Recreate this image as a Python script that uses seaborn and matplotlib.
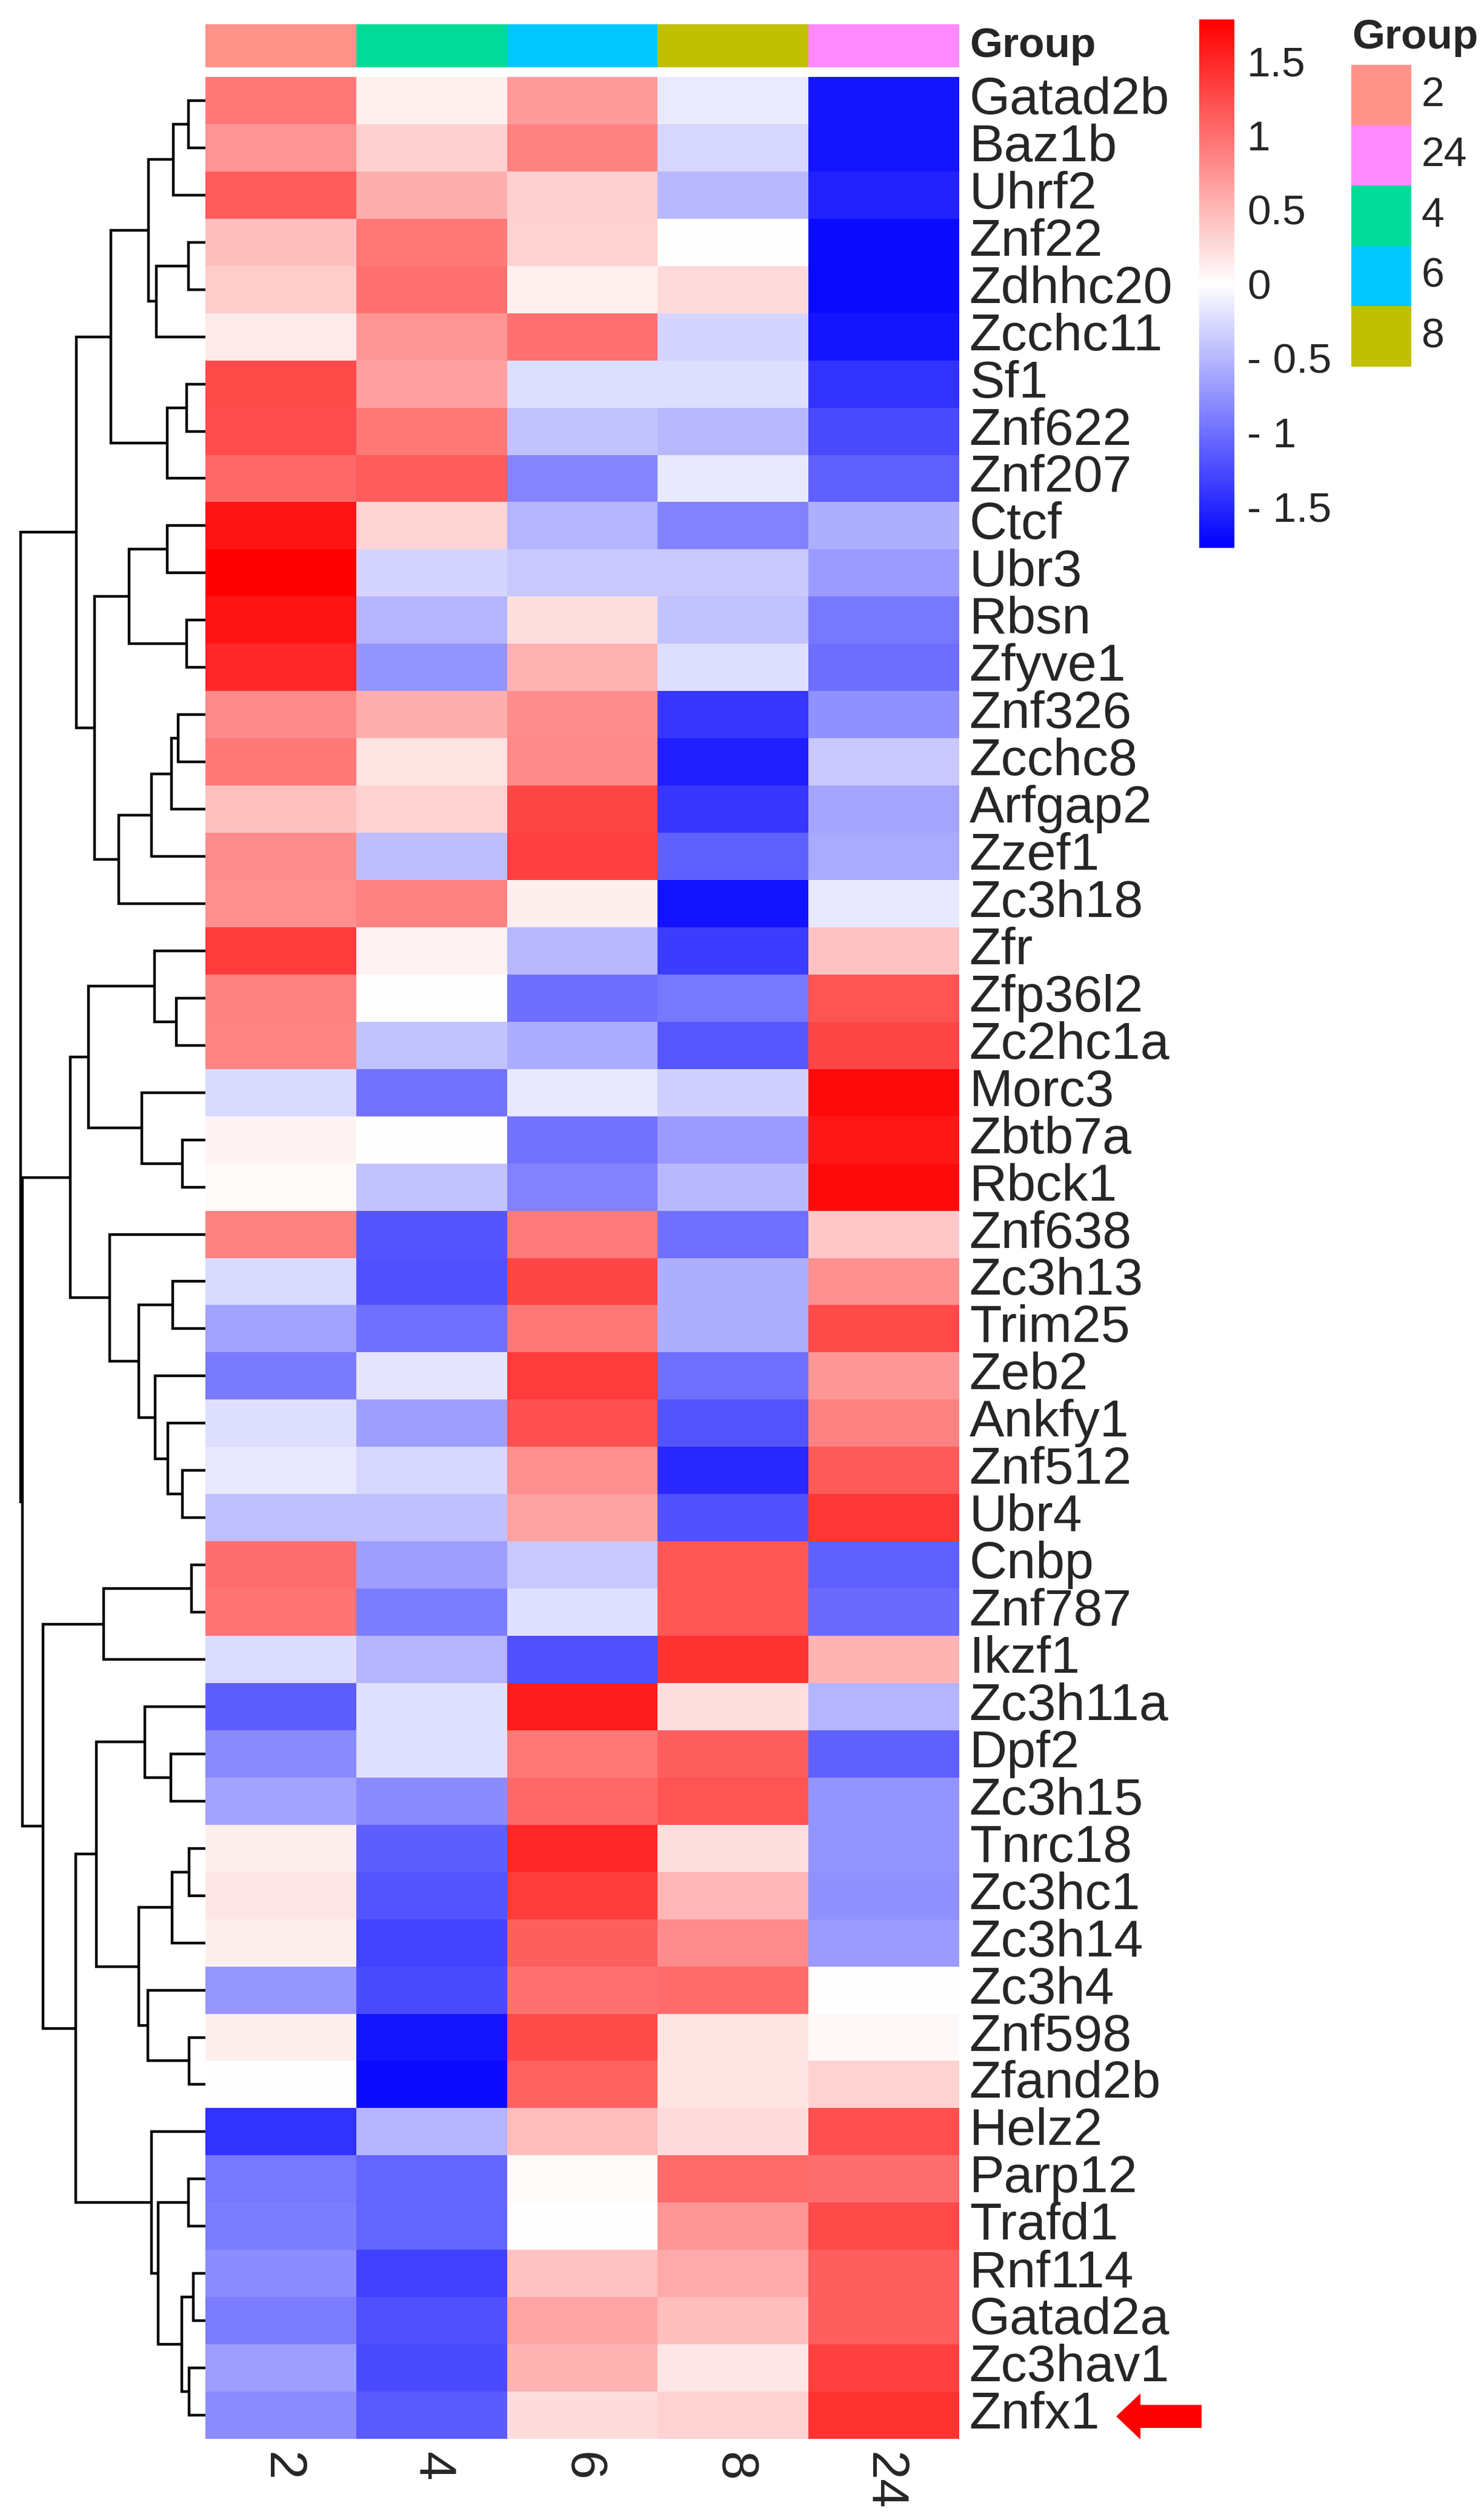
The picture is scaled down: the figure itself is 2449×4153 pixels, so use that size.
import numpy as np
import pandas as pd
import matplotlib
matplotlib.use("Agg")
import matplotlib.pyplot as plt
import seaborn as sns
from matplotlib.colors import LinearSegmentedColormap, ListedColormap
from matplotlib.patches import FancyArrow

# ---------------- data ----------------
genes = ["Gatad2b", "Baz1b", "Uhrf2", "Znf22", "Zdhhc20", "Zcchc11", "Sf1", "Znf622",
         "Znf207", "Ctcf", "Ubr3", "Rbsn", "Zfyve1", "Znf326", "Zcchc8", "Arfgap2",
         "Zzef1", "Zc3h18", "Zfr", "Zfp36l2", "Zc2hc1a", "Morc3", "Zbtb7a", "Rbck1",
         "Znf638", "Zc3h13", "Trim25", "Zeb2", "Ankfy1", "Znf512", "Ubr4", "Cnbp",
         "Znf787", "Ikzf1", "Zc3h11a", "Dpf2", "Zc3h15", "Tnrc18", "Zc3hc1", "Zc3h14",
         "Zc3h4", "Znf598", "Zfand2b", "Helz2", "Parp12", "Trafd1", "Rnf114", "Gatad2a",
         "Zc3hav1", "Znfx1"]

columns = ["2", "4", "6", "8", "24"]

z_2 = [0.94, 0.75, 1.14, 0.45, 0.35, 0.14, 1.26, 1.24, 1.05, 1.63,
       1.78, 1.63, 1.50, 0.82, 0.94, 0.44, 0.80, 0.79, 1.35, 0.87,
       0.86, -0.26, 0.07, 0.03, 0.87, -0.26, -0.65, -0.93, -0.23, -0.16,
       -0.44, 1.01, 0.96, -0.24, -1.12, -0.82, -0.65, 0.12, 0.17, 0.12,
       -0.73, 0.12, 0.00, -1.43, -0.94, -0.91, -0.80, -0.91, -0.68, -0.80]
z_4 = [0.10, 0.33, 0.56, 0.94, 1.00, 0.73, 0.66, 0.94, 1.14, 0.30,
       -0.30, -0.52, -0.75, 0.56, 0.19, 0.31, -0.45, 0.87, 0.09, 0.00,
       -0.42, -0.98, 0.00, -0.42, -1.19, -1.22, -1.00, -0.19, -0.68, -0.28,
       -0.44, -0.68, -0.91, -0.52, -0.21, -0.21, -0.82, -1.12, -1.19, -1.31,
       -1.26, -1.63, -1.70, -0.52, -1.08, -1.08, -1.33, -1.22, -1.26, -1.15]
z_6 = [0.70, 0.87, 0.33, 0.31, 0.10, 1.00, -0.23, -0.42, -0.86, -0.52,
       -0.38, 0.23, 0.54, 0.80, 0.82, 1.29, 1.33, 0.12, -0.49, -1.01,
       -0.58, -0.16, -0.98, -0.87, 0.93, 1.28, 0.94, 1.35, 1.22, 0.79,
       0.65, -0.38, -0.21, -1.21, 1.58, 0.94, 1.05, 1.49, 1.35, 1.12,
       1.00, 1.26, 1.10, 0.47, 0.03, 0.00, 0.42, 0.63, 0.52, 0.24]
z_8 = [-0.14, -0.28, -0.49, 0.00, 0.26, -0.30, -0.23, -0.49, -0.16, -0.87,
       -0.38, -0.42, -0.23, -1.40, -1.57, -1.40, -1.10, -1.65, -1.36, -0.94,
       -1.17, -0.33, -0.70, -0.49, -1.00, -0.56, -0.56, -1.00, -1.19, -1.49,
       -1.22, 1.17, 1.17, 1.42, 0.23, 1.12, 1.19, 0.23, 0.51, 0.80,
       1.03, 0.19, 0.19, 0.24, 1.03, 0.73, 0.59, 0.45, 0.17, 0.31]
z_24 = [-1.64, -1.64, -1.54, -1.71, -1.71, -1.63, -1.43, -1.26, -1.10, -0.56,
        -0.70, -0.94, -1.01, -0.77, -0.38, -0.63, -0.59, -0.16, 0.42, 1.19,
        1.28, 1.70, 1.61, 1.70, 0.38, 0.77, 1.26, 0.73, 0.87, 1.15,
        1.40, -1.10, -1.03, 0.52, -0.52, -1.10, -0.75, -0.75, -0.77, -0.70,
        -0.01, 0.05, 0.31, 1.21, 1.01, 1.26, 1.12, 1.12, 1.33, 1.42]

group_levels = ["2", "24", "4", "6", "8"]
group_colors = ["#FF9289", "#FF89FF", "#00DC98", "#00C8FF", "#C0C000"]

colorbar_ticks = [1.5, 1.0, 0.5, 0.0, -0.5, -1.0, -1.5]
colorbar_ticklabels = ["1.5", "1", "0.5", "0", "- 0.5", "- 1", "- 1.5"]

# row dendrogram: (child a, child b, merge height); leaves 0..49, new nodes 50+
merges = [
    (0, 1, 85), (50, 2, 158), (3, 4, 85), (52, 5, 245), (51, 53, 283),
    (6, 7, 93), (55, 8, 190), (54, 56, 470), (9, 10, 190), (11, 12, 93),
    (58, 59, 380), (13, 14, 135), (61, 15, 167), (62, 16, 267), (63, 17, 430),
    (60, 64, 550), (57, 65, 642), (19, 20, 145), (18, 67, 252), (22, 23, 115),
    (21, 69, 317), (68, 70, 580), (25, 26, 162), (29, 30, 115), (28, 73, 188),
    (27, 74, 250), (72, 75, 332), (24, 76, 475), (71, 77, 672), (31, 32, 70),
    (79, 33, 505), (35, 36, 170), (34, 81, 302), (37, 38, 80), (83, 39, 165),
    (41, 42, 80), (40, 85, 287), (84, 86, 332), (82, 87, 542), (44, 45, 85),
    (46, 47, 60), (48, 49, 80), (90, 91, 117), (89, 92, 235), (43, 93, 268),
    (88, 94, 645), (80, 95, 805), (78, 96, 910), (66, 97, 917),
]

# ---------------- figure ----------------
sns.set_style("white")
plt.rcParams["font.family"] = ["Liberation Sans", "DejaVu Sans"]

W, H = 2449, 4153
fig = plt.figure(figsize=(W / 100, H / 100), dpi=100)


def box(x0, y0, x1, y1):
    return [x0 / W, 1 - y1 / H, (x1 - x0) / W, (y1 - y0) / H]


df = pd.DataFrame({"2": z_2, "4": z_4, "6": z_6, "8": z_8, "24": z_24}, index=genes)[columns]

cmap = LinearSegmentedColormap.from_list("bwr_ph", ["#0000FF", "#FFFFFF", "#FF0000"], N=256)
vmax = 1.78

ax_h = fig.add_axes(box(339, 127, 1583, 4024))
ax_c = fig.add_axes(box(1979, 32, 2037, 904))
sns.heatmap(df, cmap=cmap, vmin=-vmax, vmax=vmax, ax=ax_h, cbar_ax=ax_c,
            xticklabels=columns, yticklabels=genes, linewidths=0)
ax_h.yaxis.tick_right()
ax_h.tick_params(axis="y", length=0, pad=12, labelsize=62, labelright=True, labelleft=False)
ax_h.tick_params(axis="x", length=0, pad=16, labelsize=62)
for t in ax_h.get_yticklabels():
    t.set_rotation(0)
    t.set_va("center")
    t.set_ha("left")
for t in ax_h.get_xticklabels():
    t.set_rotation(270)
    t.set_ha("center")
    t.set_va("top")
ax_h.set_xlabel("")
ax_h.set_ylabel("")

cbar = ax_h.collections[0].colorbar
cbar.outline.set_visible(False)
cbar.set_ticks(colorbar_ticks)
cbar.set_ticklabels(colorbar_ticklabels)
cbar.ax.tick_params(length=0, pad=15, labelsize=50)

# annotation bar
ax_a = fig.add_axes(box(339, 40, 1583, 111))
col_idx = [[group_levels.index(c) for c in columns]]
sns.heatmap(pd.DataFrame(col_idx, columns=columns, index=["Group"]),
            cmap=ListedColormap(group_colors), vmin=-0.5, vmax=len(group_levels) - 0.5,
            cbar=False, ax=ax_a, xticklabels=False, yticklabels=["Group"])
ax_a.yaxis.tick_right()
ax_a.tick_params(axis="y", length=0, pad=12, labelsize=50, labelright=True, labelleft=False)
for t in ax_a.get_yticklabels():
    t.set_rotation(0)
    t.set_fontweight("bold")
    t.set_va("center")
ax_a.set_xlabel("")
ax_a.set_ylabel("")

# group legend
ax_l = fig.add_axes(box(2230, 107, 2329, 605))
sns.heatmap(pd.DataFrame({"g": list(range(len(group_levels)))}, index=group_levels),
            cmap=ListedColormap(group_colors), vmin=-0.5, vmax=len(group_levels) - 0.5,
            cbar=False, ax=ax_l, xticklabels=False, yticklabels=group_levels)
ax_l.yaxis.tick_right()
ax_l.tick_params(axis="y", length=0, pad=12, labelsize=49, labelright=True, labelleft=False)
for t in ax_l.get_yticklabels():
    t.set_rotation(0)
    t.set_va("center")
ax_l.set_xlabel("")
ax_l.set_ylabel("")
fig.text(2231 / W, 1 - 30 / H, "Group", fontsize=50, fontweight="bold", ha="left", va="top")

# row dendrogram
ax_d = fig.add_axes(box(0, 127, 339, 4024))
n = len(genes)
pos = {i: i + 0.5 for i in range(n)}
hgt = {i: 0.0 for i in range(n)}
for k, (a, b, h) in enumerate(merges):
    node = n + k
    ax_d.plot([hgt[a], h, h, hgt[b]], [pos[a], pos[a], pos[b], pos[b]],
              color="black", lw=3.2, solid_capstyle="butt", solid_joinstyle="miter")
    pos[node] = (pos[a] + pos[b]) / 2
    hgt[node] = h
ax_d.set_xlim(1020, 0)
ax_d.set_ylim(n, 0)
ax_d.axis("off")

# red arrow pointing at Znfx1
ax_o = fig.add_axes([0, 0, 1, 1], facecolor="none")
ax_o.set_xlim(0, W)
ax_o.set_ylim(H, 0)
ax_o.axis("off")
ax_o.add_patch(FancyArrow(1983, 3987, -141, 0, width=38, head_width=76, head_length=40,
                          length_includes_head=True, color="#FF0000", lw=0))

fig.savefig("out.png", dpi=100)
